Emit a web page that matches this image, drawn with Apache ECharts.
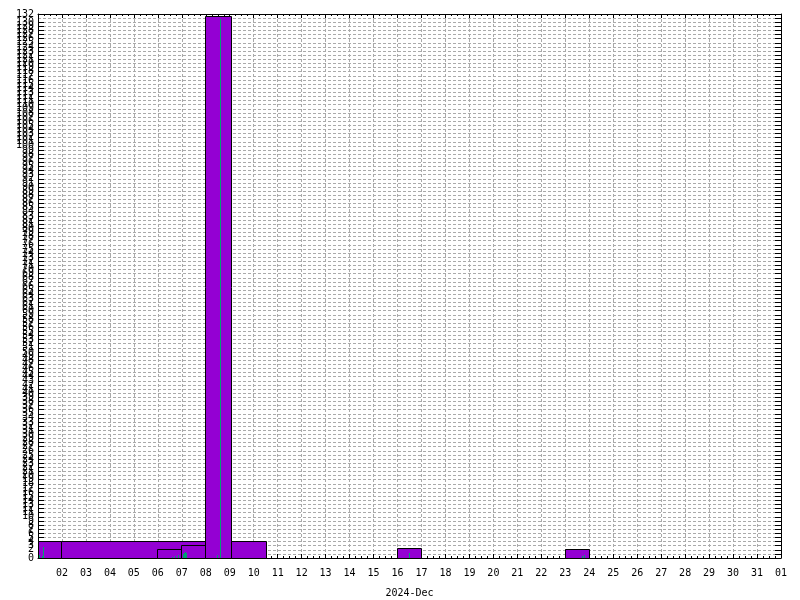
<!DOCTYPE html>
<html>
<head>
<meta charset="utf-8">
<script src="https://cdn.jsdelivr.net/npm/echarts@6/dist/echarts.min.js"></script>
<style>
    html, body { margin: 0; padding: 0; background: #ffffff; }
    #chart { width: 800px; height: 600px; }
</style>
</head>
<body>
<div id="chart"></div>
<script>
// day offsets from 2024-12-01 00:00
var barStart = [0, 1, 5, 6, 7, 8.07, 15, 22];
var barEnd   = [1, 7, 6, 7, 8.07, 9.54, 16, 23];
var barValue = [4, 4, 2, 3, 131.5, 4, 2.4, 2];

// thin green spikes
var spikeDay   = [0.08, 0.17, 0.25, 5.6, 5.72, 5.85, 6.05, 6.1, 6.15, 6.2, 7.5, 7.6, 15.48, 22.72, 22.8];
var spikeValue = [0.8, 0.5, 2.7, 0.3, 0.4, 0.7, 1.0, 1.3, 1.5, 1.2, 0.7, 130.7, 1.1, 0.4, 0.7];

var dayLabels = ['', '02', '03', '04', '05', '06', '07', '08', '09', '10', '11', '12', '13', '14', '15', '16',
    '17', '18', '19', '20', '21', '22', '23', '24', '25', '26', '27', '28', '29', '30', '31', '01'];
var monthLabel = '2024-Dec';

var font = 'DejaVu Sans Mono';
var dash = { color: '#aaaaaa', type: [3, 2], width: 1 };

function crisp(v) { return Math.round(v - 0.5) + 0.5; }

var chart = echarts.init(document.getElementById('chart'));
chart.setOption({
    animation: false,
    backgroundColor: '#ffffff',
    grid: { left: 38, right: 19, top: 14, bottom: 42, outerBoundsMode: 'none', containLabel: false },
    xAxis: [{
        type: 'value', min: 0, max: 31, interval: 1,
        name: monthLabel, nameLocation: 'middle', nameGap: 30,
        nameTextStyle: { fontFamily: font, fontSize: 10, color: '#000' },
        axisLine: { onZero: false, lineStyle: { color: '#000', width: 1 } },
        axisTick: { inside: true, length: 4, lineStyle: { color: '#000' } },
        minorTick: { show: true, splitNumber: 4, length: 2, lineStyle: { color: '#000' } },
        axisLabel: {
            fontFamily: font, fontSize: 10, color: '#000', margin: 10,
            showMinLabel: true, showMaxLabel: true,
            formatter: function (v) { return dayLabels[Math.round(v)]; }
        },
        splitLine: { show: true, lineStyle: dash }
    }, {
        type: 'value', position: 'top', min: 0, max: 31, interval: 1,
        axisLine: { onZero: false, lineStyle: { color: '#000', width: 1 } },
        axisTick: { inside: true, length: 4, lineStyle: { color: '#000' } },
        minorTick: { show: true, splitNumber: 4, length: 2, lineStyle: { color: '#000' } },
        axisLabel: { show: false },
        splitLine: { show: false }
    }],
    yAxis: [{
        type: 'value', min: 0, max: 132, interval: 1,
        axisLine: { show: true, onZero: false, lineStyle: { color: '#000', width: 1 } },
        axisTick: { show: true, inside: true, length: 6, lineStyle: { color: '#000' } },
        axisLabel: {
            fontFamily: font, fontSize: 10, color: '#000', margin: 4,
            showMinLabel: true, showMaxLabel: true, hideOverlap: false
        },
        splitLine: { show: true, lineStyle: dash }
    }, {
        type: 'value', position: 'right', min: 0, max: 132, interval: 1,
        axisLine: { show: true, onZero: false, lineStyle: { color: '#000', width: 1 } },
        axisTick: { show: true, inside: true, length: 6, lineStyle: { color: '#000' } },
        axisLabel: { show: false },
        splitLine: { show: false }
    }],
    series: [{
        type: 'custom',
        data: barStart.map(function (s, i) { return [s, barEnd[i], barValue[i]]; }),
        encode: { x: [0, 1], y: 2 },
        renderItem: function (params, api) {
            var p0 = api.coord([api.value(0), api.value(2)]);
            var p1 = api.coord([api.value(1), 0]);
            var x0 = crisp(p0[0]), y0 = crisp(p0[1]), x1 = crisp(p1[0]), y1 = crisp(p1[1]);
            return {
                type: 'rect',
                shape: { x: x0, y: y0, width: x1 - x0, height: y1 - y0 },
                style: { fill: '#9400d3', stroke: '#000000', lineWidth: 1 }
            };
        }
    }, {
        type: 'custom',
        data: spikeDay.map(function (d, i) { return [d, spikeValue[i]]; }),
        encode: { x: 0, y: 1 },
        renderItem: function (params, api) {
            var top = api.coord([api.value(0), api.value(1)]);
            var base = api.coord([api.value(0), 0]);
            var x = crisp(top[0]);
            return {
                type: 'line',
                shape: { x1: x, y1: Math.round(top[1]), x2: x, y2: Math.round(base[1]) },
                style: { stroke: '#00a070', lineWidth: 1 }
            };
        }
    }]
});
</script>
</body>
</html>
